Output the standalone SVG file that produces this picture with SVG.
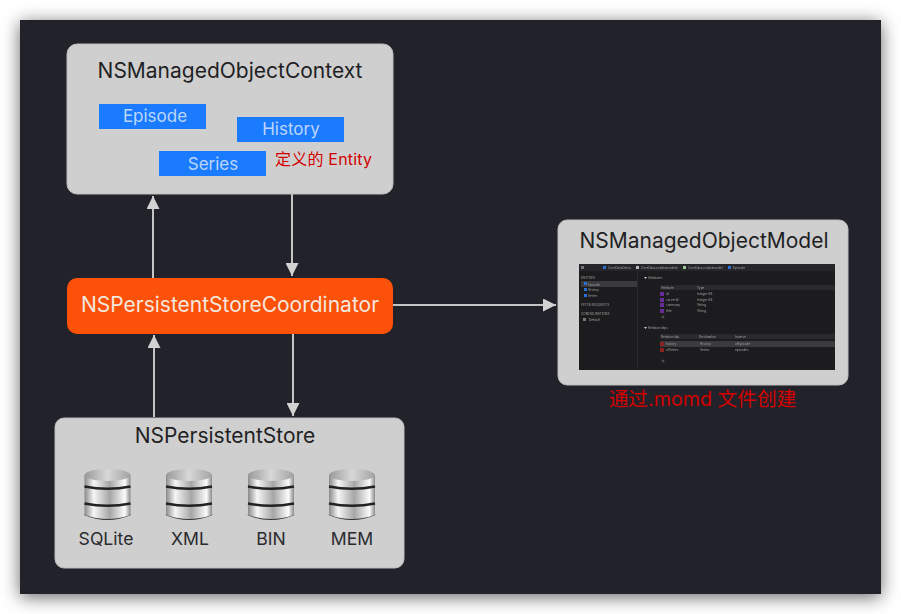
<svg xmlns="http://www.w3.org/2000/svg" width="901" height="614" viewBox="0 0 901 614">
<style>
.t{font-family:"Inter","Liberation Sans","Noto Sans CJK SC",sans-serif}
.box{fill:#cfcfcf;stroke:#bdbdbd;stroke-width:1}
.title{font-size:21px;fill:#1f1f24;text-anchor:middle;font-weight:400}
.ent{fill:#1b7bff}
.entt{font-size:17px;fill:#bcd6fb;text-anchor:middle}
.lab{font-size:17.6px;fill:#2a2a2e;text-anchor:middle}
.red{fill:#d40000}
.con{stroke:#c4c4c4;stroke-width:2;fill:none;marker-end:url(#a)}
.sm{font-size:3.2px;fill:#a0a0a0}
.pu{fill:#6a2d9a}.re{fill:#8a2222}.bl{fill:#2a6fd6}
</style>
<defs>
<filter id="sh" x="-10%" y="-10%" width="120%" height="120%"><feDropShadow dx="0" dy="3" stdDeviation="9" flood-color="#000" flood-opacity=".6"/></filter>
<filter id="bl"><feGaussianBlur stdDeviation=".3"/></filter>
<marker id="a" markerUnits="userSpaceOnUse" markerWidth="14" markerHeight="13" refX="13" refY="6.5" orient="auto"><path d="M0 0L13 6.5L0 13z" fill="#d2d2d2"/></marker>
<linearGradient id="m" x1="0" x2="1" y1="0" y2="0"><stop offset="0" stop-color="#8a8a8a"/><stop offset=".2" stop-color="#f6f6f6"/><stop offset=".55" stop-color="#a6a6a6"/><stop offset=".88" stop-color="#fbfbfb"/><stop offset="1" stop-color="#8a8a8a"/></linearGradient>
<linearGradient id="tp" x1="0" x2="1" y1="0" y2="0"><stop offset="0" stop-color="#999"/><stop offset=".5" stop-color="#d8d8d8"/><stop offset="1" stop-color="#a2a2a2"/></linearGradient>
<g id="db">
<path d="M-23.5 46Q0 56 23.5 46L22 44H-22z" fill="#333"/>
<path d="M-23 6V46Q0 54 23 46V6z" fill="url(#m)"/>
<path d="M-23 17.5Q0 22 23 17.5" stroke="#222" stroke-width="2.4" fill="none"/>
<path d="M-23 34.5Q0 39 23 34.5" stroke="#222" stroke-width="2.4" fill="none"/>
<ellipse cx="0" cy="6" rx="23" ry="6" fill="url(#tp)"/>
</g>
</defs>
<rect width="901" height="614" fill="#fff"/>
<rect x="20" y="20" width="861" height="574" fill="#21212a" filter="url(#sh)"/>
<g id="connectors">
<path class="con" d="M153 278V196"/>
<path class="con" d="M292 194V276"/>
<path class="con" d="M393 305H556"/>
<path class="con" d="M154 417V335"/>
<path class="con" d="M293 334V416"/>
</g>
<g id="context" class="t">
<rect class="box" x="67" y="44" width="326" height="150" rx="10"/>
<text class="title" x="230" y="78">NSManagedObjectContext</text>
<rect class="ent" x="99" y="104" width="107" height="25"/><text class="entt" x="155" y="122">Episode</text>
<rect class="ent" x="237" y="117" width="107" height="25"/><text class="entt" x="291" y="135">History</text>
<rect class="ent" x="159" y="151" width="107" height="25"/><text class="entt" x="213" y="170">Series</text>
<text class="red" x="275" y="165" font-size="16" textLength="97">定义的 Entity</text>
</g>
<g id="coordinator" class="t">
<rect x="67" y="278" width="326" height="56" rx="10" fill="#fb5108"/>
<text x="230" y="312" font-size="21" fill="#f4e7df" text-anchor="middle">NSPersistentStoreCoordinator</text>
</g>
<g id="model" class="t">
<rect class="box" x="558" y="220" width="290" height="165" rx="9"/>
<text class="title" x="704" y="248">NSManagedObjectModel</text>
<rect x="579" y="264" width="256" height="106" fill="#1c1c1e"/>
<g filter="url(#bl)">
<rect x="579" y="264" width="256" height="7" fill="#26262a"/>
<rect x="581" y="281" width="56" height="6" fill="#3a3a3e"/>
<rect x="637" y="271" width="1" height="99" fill="#2c2c2e"/>
<rect x="660" y="285" width="175" height="5" fill="#2a2a2d"/>
<rect x="660" y="334" width="175" height="5" fill="#2a2a2d"/>
<rect x="660" y="341" width="175" height="6" fill="#3a3a3c"/>
<rect class="pu" x="660" y="292" width="4" height="4"/><rect class="pu" x="660" y="298" width="4" height="4"/><rect class="pu" x="660" y="303" width="4" height="4"/><rect class="pu" x="660" y="309" width="4" height="4"/>
<rect class="re" x="660" y="342" width="4" height="4"/><rect class="re" x="660" y="348" width="4" height="4"/>
<rect class="bl" x="584" y="282" width="3" height="3"/><rect class="bl" x="584" y="288" width="3" height="3"/><rect class="bl" x="584" y="294" width="3" height="3"/>
<rect class="bl" x="603" y="266" width="3" height="3"/><rect x="636" y="266" width="3" height="3" fill="#bbb"/><rect x="683" y="266" width="3" height="3" fill="#9c9"/><rect class="bl" x="728" y="266" width="3" height="3"/>
<rect x="581" y="266" width="3" height="3" fill="#777"/><rect x="583" y="318" width="3" height="3" fill="#777"/>
<path d="M644 277h3l-1.500 2zM644 327h3l-1.500 2z" fill="#ccc"/>
<path d="M661.500 317h3M663 315.500v3M661.500 361h3M663 359.500v3" stroke="#888" stroke-width=".5"/>
<text class="sm" x="608" y="268.500">CoreDataDemo</text><text class="sm" x="641" y="268.500">CoreData.xcdatamodeld</text><text class="sm" x="688" y="268.500">CoreData.xcdatamodel</text><text class="sm" x="733" y="268.500">Episode</text>
<text class="sm" x="581" y="278.500">ENTITIES</text><text class="sm" x="588" y="285.500">Episode</text><text class="sm" x="588" y="291">History</text><text class="sm" x="588" y="297">Series</text>
<text class="sm" x="581" y="305.500">FETCH REQUESTS</text><text class="sm" x="581" y="315">CONFIGURATIONS</text><text class="sm" x="589" y="321">Default</text>
<text class="sm" x="648" y="279">Attributes</text><text class="sm" x="661" y="288.500">Attribute</text><text class="sm" x="697" y="288.500">Type</text>
<text class="sm" x="666" y="295">id</text><text class="sm" x="697" y="295">Integer 64</text><text class="sm" x="666" y="300.500">serverId</text><text class="sm" x="697" y="300.500">Integer 64</text><text class="sm" x="666" y="306">summary</text><text class="sm" x="697" y="306">String</text><text class="sm" x="666" y="312">title</text><text class="sm" x="697" y="312">String</text>
<text class="sm" x="648" y="329">Relationships</text><text class="sm" x="661" y="338">Relationship</text><text class="sm" x="699" y="338">Destination</text><text class="sm" x="735" y="338">Inverse</text>
<text class="sm" x="666" y="345">history</text><text class="sm" x="700" y="345">History</text><text class="sm" x="735" y="345">ofEpisode</text><text class="sm" x="666" y="351">ofSeries</text><text class="sm" x="700" y="351">Series</text><text class="sm" x="735" y="351">episodes</text>
</g>
<text class="red" x="702.500" y="406" text-anchor="middle" font-size="19.700">通过.momd 文件创建</text>
</g>
<g id="store" class="t">
<rect class="box" x="55" y="418" width="349" height="150" rx="9"/>
<text class="title" x="225" y="443">NSPersistentStore</text>
<use href="#db" x="107.500" y="469"/><text class="lab" x="106" y="545">SQLite</text>
<use href="#db" x="189" y="469"/><text class="lab" x="190" y="545">XML</text>
<use href="#db" x="271" y="469"/><text class="lab" x="271" y="545">BIN</text>
<use href="#db" x="352" y="469"/><text class="lab" x="352" y="545">MEM</text>
</g>
</svg>
